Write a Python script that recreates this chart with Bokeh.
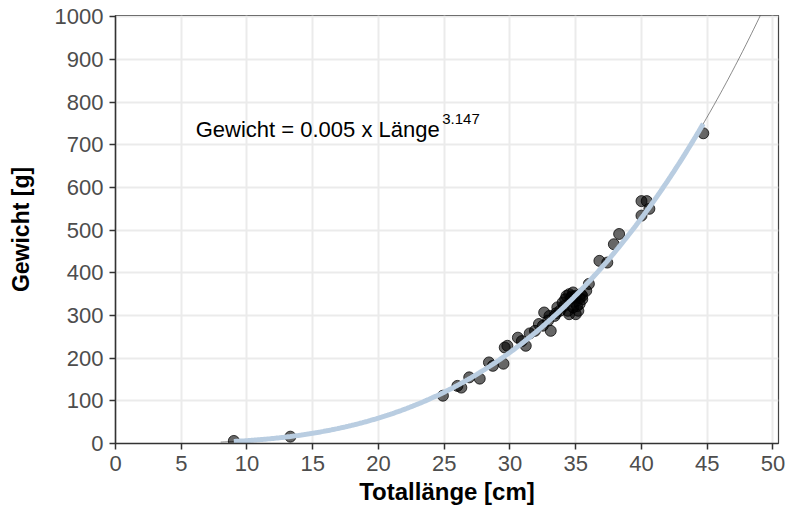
import numpy as np
from bokeh.plotting import figure
from bokeh.models import Range1d, FixedTicker, ColumnDataSource
from bokeh.core.properties import value
from bokeh.embed import file_html
from bokeh.resources import INLINE

# Observed fish: total length [cm] and weight [g]
length_cm = [9.0, 13.3, 24.9, 26.0, 26.3, 26.9, 27.7, 28.4, 28.7, 29.5, 29.6, 29.8,
             30.6, 30.9, 31.2, 31.5, 31.9, 32.2, 32.5, 32.6, 32.9, 33.0, 33.1, 33.4,
             33.5, 33.6, 33.8, 34.0, 34.1, 34.2, 34.3, 34.4, 34.5, 34.5, 34.6, 34.7,
             34.8, 34.8, 34.9, 35.0, 35.0, 35.1, 35.2, 35.3, 35.3, 35.4, 35.5, 35.5,
             35.8, 36.0, 36.8, 37.4, 37.9, 38.3, 40.0, 40.0, 40.4, 40.6, 44.7]
weight_g = [6, 16, 112, 135, 131, 155, 152, 190, 182, 187, 225, 229,
            248, 240, 229, 258, 264, 280, 276, 307, 288, 299, 264, 299,
            305, 319, 311, 330, 322, 338, 346, 311, 350, 303, 340, 345,
            354, 319, 332, 346, 303, 322, 311, 327, 340, 350, 338, 346,
            358, 374, 428, 424, 467, 491, 534, 568, 568, 550, 727]

# Fitted length-weight model W = a * L^b (coefficient shown rounded in label)
fit_a = 0.0048
fit_b = 3.147
fit_range = [9.0, 44.7]      # fitted over observed lengths
ext_range = [8.0, 49.2]      # extrapolated thin line

x_ticks = [0, 5, 10, 15, 20, 25, 30, 35, 40, 45, 50]
y_ticks = [0, 100, 200, 300, 400, 500, 600, 700, 800, 900, 1000]

label_main = "Gewicht = 0.005 x Länge"
label_exp = "3.147"

FONT = "Liberation Sans"

p = figure(frame_width=663, frame_height=428,
           min_border_left=115, min_border_right=9, min_border_top=15, min_border_bottom=69,
           x_range=Range1d(0, 50.42), y_range=Range1d(0, 1003),
           output_backend="svg", toolbar_location=None)
p.background_fill_color = "white"
p.border_fill_color = "white"
p.outline_line_color = "#444444"
p.outline_line_width = 1.2

for ax, ticks in ((p.xaxis[0], x_ticks), (p.yaxis[0], y_ticks)):
    ax.ticker = FixedTicker(ticks=ticks)
    ax.minor_tick_line_color = None
    ax.major_tick_in = 0
    ax.major_tick_out = 6
    ax.major_tick_line_color = "#333333"
    ax.major_tick_line_width = 1.5
    ax.axis_line_color = "#333333"
    ax.axis_line_width = 1.5
    ax.major_label_text_font = FONT
    ax.major_label_text_font_size = "22px"
    ax.major_label_text_color = "#4D4D4D"
    ax.major_label_standoff = 6
    ax.axis_label_text_font = FONT
    ax.axis_label_text_font_style = "bold"
    ax.axis_label_text_color = "black"

p.xaxis.axis_label = "Totallänge [cm]"
p.yaxis.axis_label = "Gewicht [g]"
p.xaxis.axis_label_text_font_size = "24px"
p.yaxis.axis_label_text_font_size = "23px"
p.xaxis.axis_label_standoff = 4
p.yaxis.axis_label_standoff = 18

for g in (p.xgrid[0], p.ygrid[0]):
    g.grid_line_color = "#EBEBEB"
    g.grid_line_width = 2
p.xgrid.ticker = FixedTicker(ticks=x_ticks)
p.ygrid.ticker = FixedTicker(ticks=y_ticks)

# model curves
xe = np.linspace(ext_range[0], ext_range[1], 300)
xf = np.linspace(fit_range[0], fit_range[1], 300)
p.line(xe, fit_a * xe ** fit_b, line_color="#3A3A3A", line_width=0.6)

src = ColumnDataSource(dict(x=length_cm, y=weight_g))
p.scatter("x", "y", source=src, size=11, fill_color="black", fill_alpha=0.6,
          line_color="black", line_alpha=0.75, line_width=1)

p.line(xf, fit_a * xf ** fit_b, line_color="#B9CDE1", line_width=5)

# equation label
p.text(x=[6.1], y=[737], text=[label_main], text_font=value(FONT),
       text_font_size="22px", text_color="black", text_baseline="alphabetic",
       text_align="left")
p.text(x=[24.85], y=[761], text=[label_exp], text_font=value(FONT),
       text_font_size="15px", text_color="black", text_baseline="alphabetic",
       text_align="left")

open("out.html", "w").write(file_html(p, INLINE))
